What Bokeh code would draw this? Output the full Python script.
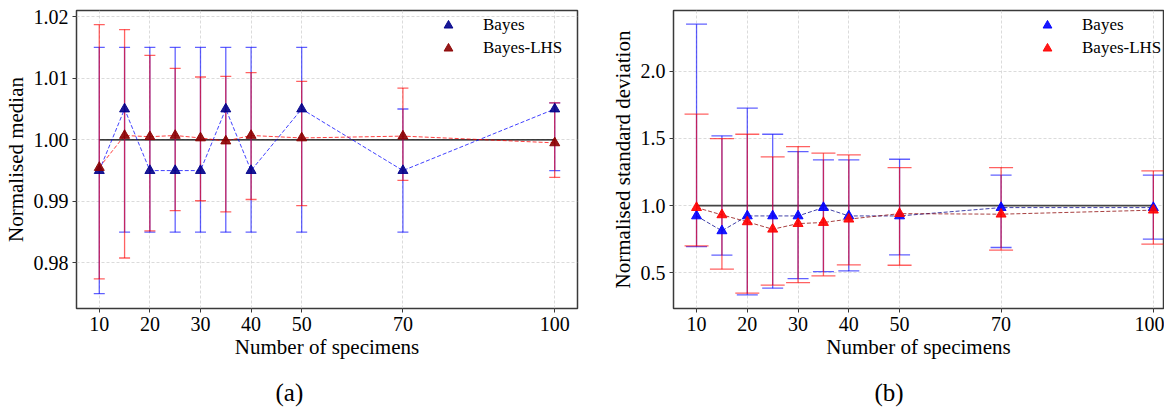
from bokeh.plotting import figure
from bokeh.models import (Range1d, FixedTicker, Whisker, TeeHead, ColumnDataSource,
                          Legend, LegendItem, Title)
from bokeh.layouts import row
from bokeh.embed import file_html
from bokeh.resources import INLINE

# ---------------- data ----------------
n_specimens = [10, 15, 20, 25, 30, 35, 40, 50, 70, 100]
x_ticks = [10, 20, 30, 40, 50, 70, 100]
x_tick_labels = ["10", "20", "30", "40", "50", "70", "100"]

# (a) normalised median
med_bayes = [0.995, 1.005, 0.995, 0.995, 0.995, 1.005, 0.995, 1.005, 0.995, 1.005]
med_bayes_lo = [0.975, 0.985, 0.985, 0.985, 0.985, 0.985, 0.985, 0.985, 0.985, 0.995]
med_bayes_hi = [1.015, 1.015, 1.015, 1.015, 1.015, 1.015, 1.015, 1.015, 1.005, 1.006]
med_lhs = [0.9955, 1.0007, 1.0005, 1.0007, 1.0003, 0.9998, 1.0007, 1.0003, 1.0006, 0.9995]
med_lhs_lo = [0.9774, 0.9808, 0.9852, 0.9885, 0.9901, 0.9883, 0.9903, 0.9893, 0.9934, 0.9939]
med_lhs_hi = [1.0187, 1.0179, 1.0137, 1.0116, 1.0102, 1.0103, 1.0109, 1.0095, 1.0084, 1.0060]
med_y_ticks = [0.98, 0.99, 1.00, 1.01, 1.02]
med_y_tick_labels = ["0.98", "0.99", "1.00", "1.01", "1.02"]

# (b) normalised standard deviation
sd_bayes = [0.923, 0.812, 0.923, 0.923, 0.923, 0.985, 0.923, 0.923, 0.985, 0.985]
sd_bayes_lo = [0.695, 0.631, 0.336, 0.385, 0.457, 0.509, 0.514, 0.633, 0.688, 0.750]
sd_bayes_hi = [2.350, 1.519, 1.725, 1.531, 1.402, 1.340, 1.340, 1.345, 1.226, 1.226]
sd_lhs = [0.985, 0.931, 0.879, 0.824, 0.866, 0.874, 0.899, 0.940, 0.936, 0.966]
sd_lhs_lo = [0.700, 0.527, 0.348, 0.408, 0.427, 0.477, 0.559, 0.556, 0.668, 0.713]
sd_lhs_hi = [1.680, 1.499, 1.531, 1.362, 1.439, 1.390, 1.377, 1.283, 1.283, 1.258]
sd_y_ticks = [0.5, 1.0, 1.5, 2.0]
sd_y_tick_labels = ["0.5", "1.0", "1.5", "2.0"]

reference_value = 1.0
series_names = ["Bayes", "Bayes-LHS"]

FONT = "Liberation Serif"


def make_panel(x_range, y_range, frame_w, border_l, border_r, ylabel,
               y_ticks, y_tick_labels, series, ref_color, ref_width,
               caption, caption_offset, legend_x):
    p = figure(x_range=Range1d(*x_range), y_range=Range1d(*y_range),
               frame_width=frame_w, frame_height=298,
               min_border_left=border_l, min_border_right=border_r,
               min_border_top=10, min_border_bottom=96,
               output_backend="svg", toolbar_location=None)
    p.background_fill_color = "white"
    p.border_fill_color = "white"
    p.outline_line_color = "#3a3a3a"
    p.outline_line_width = 1.5

    p.xaxis.ticker = FixedTicker(ticks=x_ticks)
    p.xaxis.major_label_overrides = dict(zip(x_ticks, x_tick_labels))
    p.yaxis.ticker = FixedTicker(ticks=y_ticks)
    p.yaxis.major_label_overrides = dict(zip(y_ticks, y_tick_labels))
    for ax in (p.xaxis[0], p.yaxis[0]):
        ax.axis_line_color = None
        ax.major_tick_in = 0
        ax.major_tick_out = 4
        ax.major_tick_line_color = "#3a3a3a"
        ax.major_tick_line_width = 1
        ax.minor_tick_line_color = None
        ax.major_label_text_font = FONT
        ax.major_label_text_font_size = "20px"
        ax.major_label_text_color = "black"
        ax.major_label_standoff = 4
        ax.axis_label_text_font = FONT
        ax.axis_label_text_font_size = "21px"
        ax.axis_label_text_font_style = "normal"
        ax.axis_label_text_color = "black"
    p.xaxis.axis_label = "Number of specimens"
    p.xaxis.axis_label_standoff = 1
    p.yaxis.axis_label = ylabel
    p.yaxis.axis_label_standoff = 3

    p.grid.grid_line_color = "#d2d2d2"
    p.grid.grid_line_dash = "3 2"
    p.grid.grid_line_width = 0.8
    p.xgrid.ticker = FixedTicker(ticks=x_ticks)
    p.ygrid.ticker = FixedTicker(ticks=y_ticks)

    # reference line at 1.0 spanning the specimen range
    p.line([n_specimens[0], n_specimens[-1]], [reference_value, reference_value],
           line_color=ref_color, line_width=ref_width)

    items = []
    for (name, yv, lo, hi, err_color, line_color, marker_color, cap) in series:
        src = ColumnDataSource(dict(x=n_specimens, y=yv, lo=lo, hi=hi))
        w = Whisker(source=src, base="x", upper="hi", lower="lo", dimension="height",
                    line_color=err_color, line_alpha=0.62, line_width=1.3,
                    upper_head=TeeHead(size=cap, line_color=err_color, line_alpha=0.62, line_width=1.3),
                    lower_head=TeeHead(size=cap, line_color=err_color, line_alpha=0.62, line_width=1.3),
                    level="glyph")
        p.add_layout(w)
        p.line("x", "y", source=src, line_color=line_color, line_alpha=0.75,
               line_width=1, line_dash="4 2")
        r = p.scatter("x", "y", source=src, marker="triangle", size=10,
                      fill_color=marker_color, line_color=marker_color,
                      fill_alpha=0.9, line_alpha=0.9, level="annotation")
        items.append(LegendItem(label=name, renderers=[r]))

    legend = Legend(items=items, location=(legend_x, 244),
                    glyph_width=24, glyph_height=22, label_standoff=23,
                    spacing=1, padding=5, margin=0,
                    label_text_font=FONT, label_text_font_size="17px",
                    label_text_color="black",
                    background_fill_alpha=0, border_line_alpha=0)
    p.add_layout(legend)

    p.add_layout(Title(text=caption, align="left", offset=caption_offset,
                       vertical_align="top", standoff=34,
                       text_font=FONT, text_font_size="25px",
                       text_font_style="normal", text_color="black"), "below")
    return p


series_a = [
    (series_names[0], med_bayes, med_bayes_lo, med_bayes_hi, "blue", "blue", "darkblue", 11),
    (series_names[1], med_lhs, med_lhs_lo, med_lhs_hi, "red", "red", "darkred", 11),
]
series_b = [
    (series_names[0], sd_bayes, sd_bayes_lo, sd_bayes_hi, "blue", "darkblue", "blue", 21),
    (series_names[1], sd_lhs, sd_lhs_lo, sd_lhs_hi, "red", "darkred", "red", 24),
]

pa = make_panel((5.5, 104.5), (0.9726, 1.021), 501, 67, 24, "Normalised median",
                med_y_ticks, med_y_tick_labels, series_a, "black", 1.2,
                "(a)", 199, 355)
pb = make_panel((5.46, 102.0), (0.234, 2.452), 490, 72, 1,
                "Normalised standard deviation",
                sd_y_ticks, sd_y_tick_labels, series_b, "#444444", 1.8,
                "(b)", 201, 357)

layout = row(pa, pb)
open("out.html", "w").write(file_html(layout, INLINE))
